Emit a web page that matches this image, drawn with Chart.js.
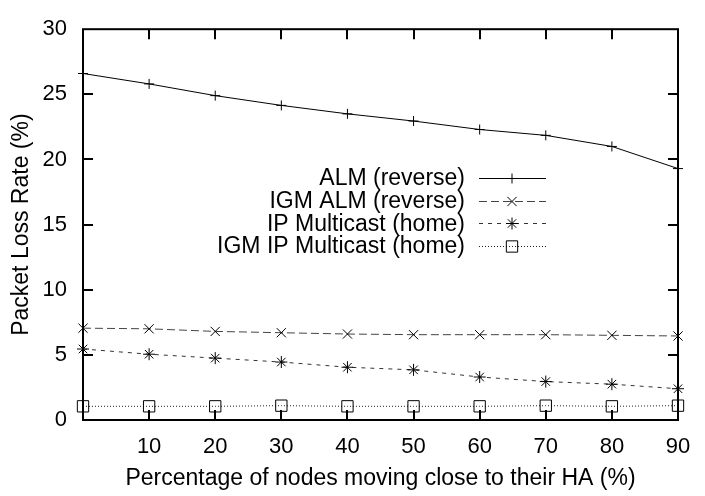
<!DOCTYPE html>
<html>
<head>
<meta charset="utf-8">
<title>Packet Loss Rate</title>
<script src="https://cdn.jsdelivr.net/npm/chart.js@4/dist/chart.umd.min.js"></script>
<style>
  html, body { margin: 0; padding: 0; background: #fff; }
  #wrap { width: 705px; height: 496px; position: relative; }
</style>
</head>
<body>
<div id="wrap"><canvas id="c"></canvas></div>
<script>
// Percentage of nodes moving close to their HA
const movingPct = [0, 10, 20, 30, 40, 50, 60, 70, 80, 90];

// Packet loss rate (%) per scheme
const almReverse      = [26.6, 25.8, 24.9, 24.15, 23.5, 22.95, 22.3, 21.85, 21.0, 19.3];
const igmAlmReverse   = [7.05, 7.0, 6.8, 6.7, 6.6, 6.55, 6.55, 6.55, 6.5, 6.45];
const ipMulticastHome = [5.45, 5.05, 4.75, 4.45, 4.05, 3.85, 3.3, 2.95, 2.75, 2.4];
const igmIpMulticastHome = [1.05, 1.05, 1.05, 1.1, 1.05, 1.05, 1.05, 1.1, 1.05, 1.1];

const seriesNames = ['ALM (reverse)', 'IGM ALM (reverse)', 'IP Multicast (home)', 'IGM IP Multicast (home)'];

const xTicks = [0, 10, 20, 30, 40, 50, 60, 70, 80, 90];
const yTicks = [0, 5, 10, 15, 20, 25, 30];

const FONT = '"Liberation Sans", Arial, Helvetica, sans-serif';

function pts(values) {
  return movingPct.map((x, i) => ({ x: x, y: values[i] }));
}

const styles = [
  { color: '#000', dash: [],      pointStyle: 'cross',    radius: 5 },
  { color: '#444', dash: [8, 4],  pointStyle: 'crossRot', radius: 6.5 },
  { color: '#333', dash: [4, 5],  pointStyle: 'star',     radius: 6 },
  { color: '#222', dash: [1, 2],  pointStyle: 'rect',     radius: 8 }
];
const seriesValues = [almReverse, igmAlmReverse, ipMulticastHome, igmIpMulticastHome];

const datasets = seriesValues.map((vals, i) => ({
  label: seriesNames[i],
  data: pts(vals),
  borderColor: styles[i].color,
  borderWidth: 1,
  borderDash: styles[i].dash,
  pointStyle: styles[i].pointStyle,
  pointRadius: styles[i].radius,
  pointHoverRadius: styles[i].radius,
  pointBorderColor: '#000',
  pointBackgroundColor: 'rgba(0,0,0,0)',
  pointBorderWidth: 1,
  fill: false,
  tension: 0,
  clip: false
}));

// Frame with inward ticks on all four sides
const framePlugin = {
  id: 'frame',
  afterDatasetsDraw(chart) {
    const { ctx, chartArea: a, scales } = chart;
    const xs = scales.x, ys = scales.y;
    const tl = 10;
    ctx.save();
    ctx.strokeStyle = '#000';
    ctx.lineWidth = 2;
    ctx.setLineDash([]);
    ctx.strokeRect(a.left, a.top, a.right - a.left, a.bottom - a.top);
    ctx.beginPath();
    xTicks.forEach(v => {
      if (v <= xs.min || v >= xs.max) return;
      const px = Math.round(xs.getPixelForValue(v));
      ctx.moveTo(px, a.bottom); ctx.lineTo(px, a.bottom - tl);
      ctx.moveTo(px, a.top);    ctx.lineTo(px, a.top + tl);
    });
    yTicks.forEach(v => {
      if (v <= ys.min || v >= ys.max) return;
      const py = Math.round(ys.getPixelForValue(v));
      ctx.moveTo(a.left, py);  ctx.lineTo(a.left + tl, py);
      ctx.moveTo(a.right, py); ctx.lineTo(a.right - tl, py);
    });
    ctx.stroke();
    ctx.restore();
  }
};

// Key: right-aligned labels followed by a line sample with its marker
const keyPlugin = {
  id: 'key',
  afterDatasetsDraw(chart) {
    const { ctx } = chart;
    const textRight = 465, lineL = 479, lineR = 546, markX = 512;
    const top = 178, step = 22.6;
    ctx.save();
    ctx.font = '23px ' + FONT;
    ctx.textAlign = 'right';
    ctx.textBaseline = 'middle';
    chart.data.datasets.forEach((ds, i) => {
      const y = top + i * step;
      ctx.fillStyle = '#000';
      ctx.fillText(ds.label, textRight, y + 1);
      ctx.strokeStyle = ds.borderColor;
      ctx.lineWidth = 1;
      ctx.setLineDash(ds.borderDash);
      ctx.beginPath();
      ctx.moveTo(lineL, Math.round(y) + 0.5);
      ctx.lineTo(lineR, Math.round(y) + 0.5);
      ctx.stroke();
      ctx.setLineDash([]);
      ctx.strokeStyle = '#000';
      ctx.fillStyle = 'rgba(0,0,0,0)';
      Chart.helpers.drawPoint(ctx, {
        pointStyle: ds.pointStyle,
        radius: ds.pointRadius,
        rotation: 0,
        borderWidth: 1
      }, markX, Math.round(y) + 0.5);
    });
    ctx.restore();
  }
};

new Chart(document.getElementById('c'), {
  type: 'line',
  data: { datasets: datasets },
  options: {
    responsive: true,
    maintainAspectRatio: false,
    animation: false,
    devicePixelRatio: 1,
    layout: { padding: { top: 15, right: 27, left: 0, bottom: 0 } },
    plugins: {
      legend: { display: false },
      tooltip: { enabled: false }
    },
    scales: {
      x: {
        type: 'linear',
        min: 0,
        max: 90,
        afterFit(scale) { scale.height = 76; },
        afterBuildTicks(scale) { scale.ticks = xTicks.map(v => ({ value: v })); },
        grid: { display: false, drawTicks: false },
        border: { display: false },
        ticks: {
          padding: 14,
          color: '#000',
          font: { family: FONT, size: 22 },
          maxRotation: 0,
          callback: v => (v === 0 ? '' : String(v))
        },
        title: {
          display: true,
          text: 'Percentage of nodes moving close to their HA (%)',
          color: '#000',
          font: { family: FONT, size: 23 },
          padding: { top: 0, bottom: 4 }
        }
      },
      y: {
        type: 'linear',
        min: 0,
        max: 30,
        afterFit(scale) { scale.width = 83; },
        afterBuildTicks(scale) { scale.ticks = yTicks.map(v => ({ value: v })); },
        grid: { display: false, drawTicks: false },
        border: { display: false },
        ticks: {
          padding: 16,
          color: '#000',
          font: { family: FONT, size: 22 },
          callback: v => String(v)
        },
        title: {
          display: true,
          text: 'Packet Loss Rate (%)',
          color: '#000',
          font: { family: FONT, size: 23 },
          padding: { top: 8, bottom: 0 }
        }
      }
    }
  },
  plugins: [framePlugin, keyPlugin]
});
</script>
</body>
</html>
